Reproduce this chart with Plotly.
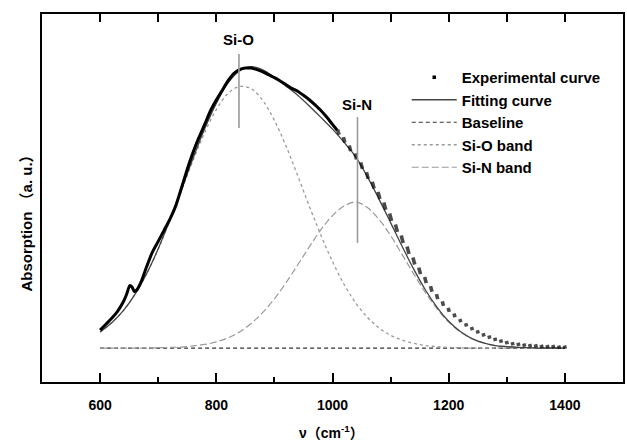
import numpy as np
import plotly.graph_objects as go

# ---------------- data ----------------
# experimental curve, dense part (drawn as a thick line)
exp_line_x = [600, 610, 620, 630, 640, 646, 651, 655, 659, 663, 670, 680, 690, 700, 710, 720,
              730, 740, 750, 760, 770, 780, 790, 800, 810, 820, 830, 840, 850, 860, 870, 880,
              890, 900, 910, 920, 930, 940, 950, 960, 970, 980, 990, 1000, 1008]
exp_line_y = [0.141, 0.157, 0.173, 0.192, 0.218, 0.240, 0.262, 0.258, 0.246, 0.250, 0.270,
              0.313, 0.353, 0.382, 0.412, 0.442, 0.478, 0.527, 0.578, 0.624, 0.664, 0.700,
              0.737, 0.766, 0.792, 0.818, 0.838, 0.849, 0.853, 0.853, 0.849, 0.843, 0.835,
              0.827, 0.818, 0.808, 0.798, 0.790, 0.779, 0.767, 0.753, 0.738, 0.720, 0.700,
              0.684]
# experimental curve, sparse part (drawn as points)
exp_pts_x = [1010, 1020, 1030, 1040, 1050, 1060, 1070, 1080, 1090, 1100, 1110, 1120, 1130,
             1140, 1150, 1160, 1170, 1180, 1190, 1200, 1210, 1220, 1230, 1240, 1250, 1260,
             1270, 1280, 1290, 1300, 1310, 1320, 1330, 1340, 1350, 1360, 1370, 1380, 1390,
             1400]
exp_pts_y = [0.679, 0.658, 0.635, 0.613, 0.588, 0.561, 0.535, 0.507, 0.478, 0.448, 0.418,
             0.388, 0.358, 0.329, 0.302, 0.277, 0.253, 0.232, 0.213, 0.196, 0.181, 0.167,
             0.155, 0.145, 0.136, 0.128, 0.122, 0.116, 0.111, 0.107, 0.104, 0.102, 0.100,
             0.099, 0.098, 0.097, 0.096, 0.096, 0.095, 0.095]

# common grid for fitted curves
wn = [600, 620, 640, 660, 680, 700, 720, 740, 760, 780, 800, 820, 840, 860, 880, 900, 920,
      940, 960, 980, 1000, 1020, 1040, 1060, 1080, 1100, 1120, 1140, 1160, 1180, 1200, 1220,
      1240, 1260, 1280, 1300, 1320, 1340, 1360, 1380, 1400]
fit_y = [0.136, 0.161, 0.194, 0.238, 0.294, 0.362, 0.440, 0.523, 0.608, 0.688, 0.757, 0.812,
         0.845, 0.857, 0.848, 0.828, 0.804, 0.779, 0.750, 0.719, 0.687, 0.651, 0.612, 0.558,
         0.497, 0.433, 0.368, 0.306, 0.250, 0.203, 0.165, 0.137, 0.118, 0.106, 0.099, 0.096,
         0.094, 0.093, 0.092, 0.092, 0.092]
baseline_y = [0.092] * len(wn)
sio_y = [0.136, 0.161, 0.194, 0.238, 0.294, 0.361, 0.438, 0.520, 0.602, 0.678, 0.740, 0.784,
         0.803, 0.797, 0.765, 0.711, 0.641, 0.561, 0.478, 0.399, 0.327, 0.265, 0.215, 0.176,
         0.147, 0.127, 0.114, 0.105, 0.099, 0.096, 0.094, 0.093, 0.092, 0.092, 0.092, 0.092,
         0.092, 0.092, 0.092, 0.092, 0.092]
sin_y = [0.092, 0.092, 0.092, 0.092, 0.092, 0.093, 0.094, 0.095, 0.098, 0.102, 0.109, 0.120,
         0.136, 0.159, 0.189, 0.226, 0.270, 0.318, 0.367, 0.414, 0.452, 0.478, 0.489, 0.474,
         0.442, 0.398, 0.346, 0.293, 0.243, 0.199, 0.163, 0.136, 0.118, 0.106, 0.099, 0.096,
         0.094, 0.093, 0.092, 0.092, 0.092]

band_labels = ["Si-O", "Si-N"]
band_pos = [839, 1043]
legend_names = ["Experimental curve", "Fitting curve", "Baseline", "Si-O band", "Si-N band"]

# ---------------- layout geometry ----------------
W, H = 627, 441
ML, MR, MT, MB = 42, 2, 14, 59
XR = [500, 1500]
YR = [0.0, 1.0]
pw = W - ML - MR
ph = H - MT - MB
pxx = pw / (XR[1] - XR[0])
pxy = ph / (YR[1] - YR[0])

FONT = "Liberation Sans, Arial, Noto Sans CJK SC, sans-serif"

# short dash markers, length following the local vertical step (line symbols are 1.4*size long)
ey = np.array(exp_pts_y, float)
vstep = np.abs(np.gradient(ey)) * pxy
msize = np.clip(0.5 * vstep, 2.4, 6.5)

fig = go.Figure()

fig.add_trace(go.Scatter(x=wn, y=baseline_y, mode="lines", name=legend_names[2],
                         line=dict(color="#333333", width=1.1, dash="4px,3px"),
                         legendgroup="c", legendrank=3))
fig.add_trace(go.Scatter(x=wn, y=sio_y, mode="lines", name=legend_names[3],
                         line=dict(color="#9a9a9a", width=1.3, dash="dot", shape="spline"),
                         legendgroup="d", legendrank=4))
fig.add_trace(go.Scatter(x=wn, y=sin_y, mode="lines", name=legend_names[4],
                         line=dict(color="#9a9a9a", width=1.2, dash="7px,3px", shape="spline"),
                         legendgroup="e", legendrank=5))
fig.add_trace(go.Scatter(x=wn, y=fit_y, mode="lines", name=legend_names[1],
                         line=dict(color="#444444", width=1.3, shape="spline"),
                         legendgroup="b", legendrank=2))
fig.add_trace(go.Scatter(x=exp_line_x, y=exp_line_y, mode="lines", showlegend=False,
                         line=dict(color="black", width=3, shape="spline", smoothing=0.6),
                         hoverinfo="skip"))
fig.add_trace(go.Scatter(x=exp_pts_x, y=exp_pts_y, mode="markers", showlegend=False,
                         marker=dict(symbol="line-ns", size=msize, angle=-15,
                                     line=dict(color="black", width=3.6), color="black")))
fig.add_trace(go.Scatter(x=[None], y=[None], mode="markers", name=legend_names[0],
                         marker=dict(symbol="square", size=3.5, color="black"),
                         legendgroup="a", legendrank=1))
# invisible trace for the top axis
fig.add_trace(go.Scatter(x=[XR[0]], y=[YR[0]], xaxis="x2", yaxis="y", mode="markers",
                         marker=dict(opacity=0), showlegend=False, hoverinfo="skip"))

# vertical band-position lines and labels
for lab, pos, y0, y1, yt in zip(band_labels, band_pos, [0.690, 0.378], [0.891, 0.72],
                                 [0.930, 0.755]):
    fig.add_shape(type="line", x0=pos, x1=pos, y0=y0, y1=y1, xref="x", yref="y",
                  line=dict(color="#999999", width=1.6))
    fig.add_annotation(x=pos, y=yt, xref="x", yref="y", text=lab, showarrow=False,
                       font=dict(size=15, family=FONT, color="black", weight="bold"))

# axis titles
fig.add_annotation(text="Absorption （a. u.）", xref="paper", yref="paper",
                   x=(16 - ML) / pw, y=(H - MB - 220) / ph, textangle=-90, showarrow=False,
                   font=dict(size=15, family=FONT, color="black", weight="bold"))
fig.add_annotation(text="ν（cm<sup>-1</sup>）", xref="paper", yref="paper",
                   x=(332 - ML) / pw, y=(H - MB - 443) / ph, showarrow=False,
                   font=dict(size=14, family=FONT, color="black", weight="bold"))

fig.update_layout(
    width=W, height=H,
    margin=dict(l=ML, r=MR, t=MT, b=MB),
    paper_bgcolor="white", plot_bgcolor="white",
    font=dict(family=FONT, size=14, color="black", weight="bold"),
    showlegend=True,
    legend=dict(x=(408 - ML) / pw, y=(H - MB - 61) / ph, xanchor="left", yanchor="top",
                bgcolor="rgba(0,0,0,0)", borderwidth=0, itemwidth=45,
                traceorder="grouped", tracegroupgap=0,
                font=dict(size=15, family=FONT, color="black", weight="bold")),
    xaxis=dict(range=XR, tick0=600, dtick=200, tickmode="linear",
               ticks="inside", ticklen=9, tickwidth=1.5, tickcolor="black",
               minor=dict(dtick=100, tick0=500, ticks="inside", ticklen=5, tickwidth=1.5,
                          tickcolor="black"),
               showline=True, linecolor="black", linewidth=1.8, mirror=True,
               showgrid=False, zeroline=False, ticklabelstandoff=9,
               tickfont=dict(size=14, family=FONT, color="black", weight="bold")),
    xaxis2=dict(range=XR, overlaying="x", side="top", tick0=500, dtick=100,
                tickmode="linear", ticks="inside", ticklen=8, tickwidth=1.5,
                tickcolor="black", showticklabels=False, showline=False,
                showgrid=False, zeroline=False, anchor="y"),
    yaxis=dict(range=YR, showticklabels=False, ticks="", showline=True,
               linecolor="black", linewidth=1.8, mirror=True, showgrid=False,
               zeroline=False),
)

fig.write_html("out.html", config={"displayModeBar": False})

# remove the default page margin so the figure starts at the window corner
with open("out.html", "r", encoding="utf-8") as f:
    html = f.read()
html = html.replace("<body>", '<body style="margin:0;padding:0;overflow:hidden">', 1)
with open("out.html", "w", encoding="utf-8") as f:
    f.write(html)
